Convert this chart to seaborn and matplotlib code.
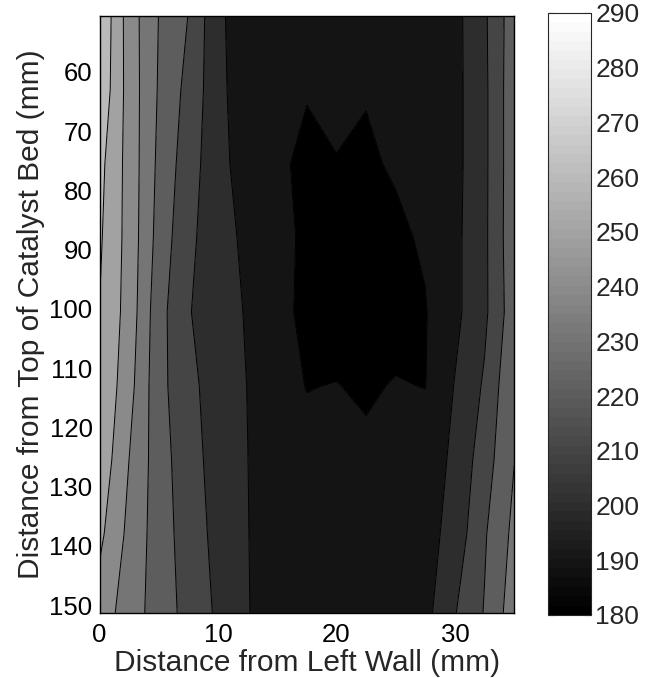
import numpy as np
import matplotlib
matplotlib.use("Agg")
import matplotlib.pyplot as plt
import seaborn as sns

# measurement grid: distance from left wall (mm) and from top of bed (mm)
x_mm = [0, 2.5, 5, 7.5, 10, 12.5, 15, 17.5, 20, 22.5, 25, 27.5, 30, 32.5, 35]
y_mm = [50.5, 63, 75.5, 88, 100.5, 113, 125.5, 138, 151.3]

# temperatures, one row per depth
t_50 = [269.5, 245.2, 229.8, 219.8, 202.0, 194.0, 192.5, 191.5, 191.0, 191.0, 191.5, 192.5, 197.0, 208.4, 226.0]
t_63 = [268.0, 245.8, 229.1, 216.9, 203.3, 192.5, 191.5, 190.4, 190.6, 190.4, 191.0, 192.0, 197.0, 207.9, 226.7]
t_75 = [263.0, 246.2, 227.8, 214.5, 203.6, 194.6, 191.2, 188.5, 189.9, 189.0, 190.8, 192.0, 197.0, 207.9, 226.7]
t_88 = [261.4, 246.3, 226.3, 212.2, 204.3, 197.6, 192.5, 188.5, 187.5, 187.5, 188.5, 191.0, 197.5, 208.0, 227.0]
t_100 = [259.8, 245.9, 223.7, 210.6, 204.7, 199.1, 192.0, 188.4, 187.0, 186.5, 187.0, 189.5, 197.5, 208.0, 226.0]
t_113 = [259.3, 243.5, 223.3, 212.5, 205.7, 199.8, 192.5, 189.8, 190.2, 189.0, 190.5, 189.8, 200.5, 211.3, 229.4]
t_125 = [257.1, 239.9, 224.7, 213.8, 206.3, 200.1, 193.0, 192.0, 191.5, 191.5, 192.0, 195.0, 201.9, 215.4, 229.8]
t_138 = [252.3, 237.4, 225.1, 215.2, 207.1, 200.3, 193.5, 192.5, 192.0, 192.0, 193.0, 196.0, 204.0, 219.0, 232.5]
t_151 = [245.5, 235.1, 225.4, 216.7, 208.4, 200.5, 194.0, 193.0, 192.5, 192.5, 194.0, 197.0, 209.5, 220.6, 235.5]

levels = [180, 190, 200, 210, 220, 230, 240, 250, 260, 270, 280, 290]
cbar_ticks = [180, 190, 200, 210, 220, 230, 240, 250, 260, 270, 280, 290]
x_ticks = [0, 10, 20, 30]
y_ticks = [60, 70, 80, 90, 100, 110, 120, 130, 140, 150]

sns.set_style("ticks")
plt.rcParams['font.family'] = ['Liberation Sans', 'DejaVu Sans']

T = np.array([t_50, t_63, t_75, t_88, t_100, t_113, t_125, t_138, t_151])
X, Y = np.meshgrid(x_mm, y_mm)

cmap = plt.get_cmap('gray', 64)
norm = matplotlib.colors.Normalize(vmin=180, vmax=290)
# matlab style: each band takes the colour of its lower level
band_colors = [cmap(norm(l)) for l in levels[:-1]]

fig = plt.figure(figsize=(6.55, 6.78), dpi=100)
ax = fig.add_axes([0.152, 0.096, 0.633, 0.881])
cax = fig.add_axes([0.837, 0.093, 0.0656, 0.888])

ax.contourf(X, Y, T, levels=levels, colors=band_colors)
ax.contour(X, Y, T, levels=levels, colors='k', linewidths=0.7)

ax.set_xlim(0, 35)
ax.set_ylim(151.3, 50.5)
ax.set_xticks(x_ticks)
ax.set_yticks(y_ticks)
ax.tick_params(direction='in', length=5, width=0.8, top=True, right=True,
               labelsize=18.5, colors='k')
ax.tick_params(axis='x', pad=7)
ax.tick_params(axis='y', pad=5)
for s in ax.spines.values():
    s.set_linewidth(1.0)
    s.set_color('k')
ax.set_xlabel("Distance from Left Wall (mm)", fontsize=21.5, labelpad=2)
ax.set_ylabel("Distance from Top of Catalyst Bed (mm)", fontsize=21.5, labelpad=3)

sm = matplotlib.cm.ScalarMappable(norm=norm, cmap=cmap)
cb = fig.colorbar(sm, cax=cax)
cb.set_ticks(cbar_ticks)
cb.outline.set_linewidth(0.8)
cax.tick_params(direction='in', length=5, width=0.8, left=True, right=True,
                labelsize=19, pad=3)

plt.savefig("out.png", dpi=100)
